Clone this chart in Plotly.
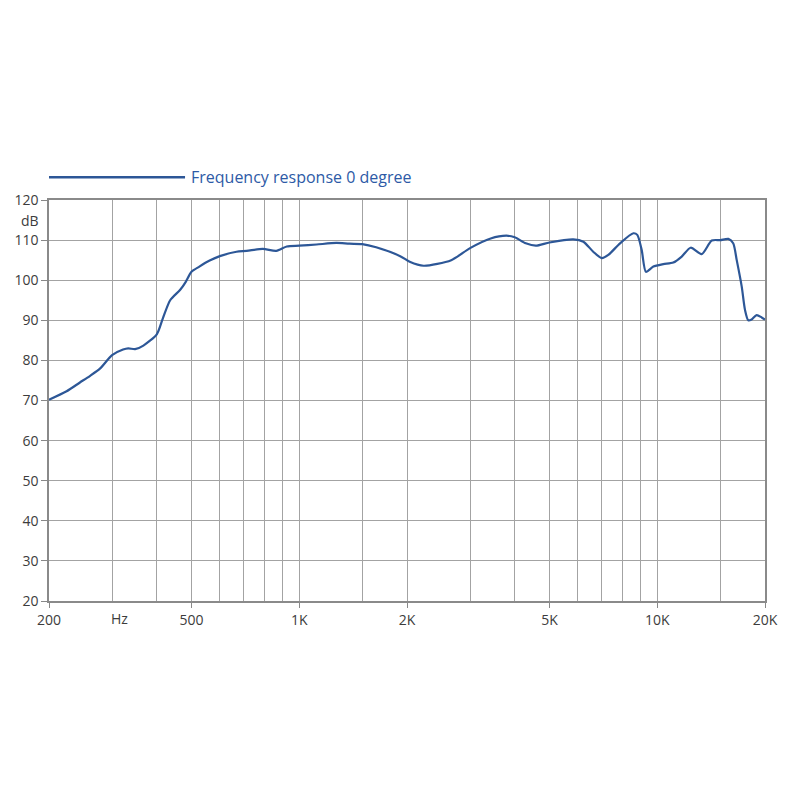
import plotly.graph_objects as go
import numpy as np

freq_hz = [200, 224, 244, 260, 278, 300, 322, 333, 348, 367, 400, 416, 436, 465, 482, 500,
           526, 562, 600, 668, 713, 791, 863, 923, 1000, 1118, 1270, 1381, 1500, 1640, 1914,
           2035, 2225, 2658, 3000, 3426, 3793, 4000, 4293, 4578, 5000, 5828, 6220, 6626, 7000,
           7300, 7872, 8575, 8797, 9050, 9300, 9752, 10400, 11088, 11706, 12400, 13312, 14200,
           15000, 15800, 16300, 16675, 17220, 17585, 17960, 18350, 18960, 19580, 20000]
spl_db = [70.2, 72.3, 74.5, 76.1, 78.0, 81.3, 82.7, 83.0, 82.8, 83.7, 86.5, 90.5, 95.0, 97.6, 99.6, 102.1,
          103.4, 104.9, 106.0, 107.1, 107.3, 107.8, 107.3, 108.4, 108.6, 108.9, 109.3, 109.1, 109.0, 108.2, 106.0,
          104.6, 103.6, 105.0, 108.0, 110.4, 111.1, 110.7, 109.2, 108.6, 109.4, 110.2, 109.6, 107.1, 105.5,
          106.3, 109.2, 111.7, 111.3, 107.5, 102.1, 103.4, 104.0, 104.4, 105.9, 108.1, 106.5, 109.9,
          110.0, 110.3, 109.2, 105.0, 98.4, 92.6, 90.0, 90.2, 91.3, 90.7, 90.2]

label_vals = [200, 500, 1000, 2000, 5000, 10000, 20000]
label_text = ["200", "500", "1K", "2K", "5K", "10K", "20K"]
grid_vals = [300, 400, 600, 700, 800, 900, 1500, 3000, 4000, 6000, 7000, 8000, 9000, 15000]
unit_label_pos = 315
y_ticks = list(range(20, 121, 10))
series_name = "Frequency response 0 degree"

LINE = "#2d5797"
GRID = "#a3a3a3"
TXT = "#3c3c3c"
FONT = "Open Sans"

fig = go.Figure()
fig.add_trace(go.Scatter(x=freq_hz, y=spl_db, mode="lines", name=series_name,
                         line=dict(color=LINE, width=2.2, shape="spline", smoothing=0.7),
                         showlegend=False))

fig.update_xaxes(type="log", range=[np.log10(200), np.log10(20000)], automargin=False,
                 tickmode="array", tickvals=label_vals, ticktext=label_text,
                 showgrid=True, gridcolor=GRID, gridwidth=1.2,
                 minor=dict(tickmode="array", tickvals=grid_vals, showgrid=True,
                            gridcolor=GRID, gridwidth=1.2, ticks=""),
                 ticks="outside", ticklen=5, tickcolor="#888", tickwidth=1,
                 showline=True, linecolor="#8a8a8a", linewidth=1.5, mirror=True,
                 tickfont=dict(family=FONT, size=14, color=TXT), zeroline=False)
fig.update_yaxes(range=[20, 120], tickmode="array", tickvals=y_ticks, automargin=False,
                 showgrid=True, gridcolor=GRID, gridwidth=1.2,
                 ticks="outside", ticklen=6, tickcolor="#888", tickwidth=1,
                 showline=True, linecolor="#8a8a8a", linewidth=1.5, mirror=True,
                 tickfont=dict(family=FONT, size=14, color=TXT), zeroline=False)

fig.add_annotation(x=np.log10(unit_label_pos), y=0, xref="x", yref="paper",
                   text="Hz", showarrow=False, yanchor="top", yshift=-6,
                   font=dict(family=FONT, size=14, color=TXT))
fig.add_annotation(x=0, y=110 + 5, xref="paper", yref="y", text="dB", showarrow=False,
                   xanchor="right", xshift=-8, font=dict(family=FONT, size=14, color=TXT))

# legend key drawn as line + label
fig.add_shape(type="line", xref="paper", yref="paper", x0=0.0, x1=0.19, y0=1.057, y1=1.057,
              line=dict(color=LINE, width=2.5))
fig.add_annotation(x=0.196, y=1.057, xref="paper", yref="paper", text=series_name,
                   showarrow=False, xanchor="left", yanchor="middle",
                   font=dict(family=FONT, size=16, color="#2d5aa6"))

fig.update_layout(width=800, height=800, paper_bgcolor="white", plot_bgcolor="white",
                  margin=dict(l=41, r=43, t=192, b=207), showlegend=False)

fig.write_html("out.html")
